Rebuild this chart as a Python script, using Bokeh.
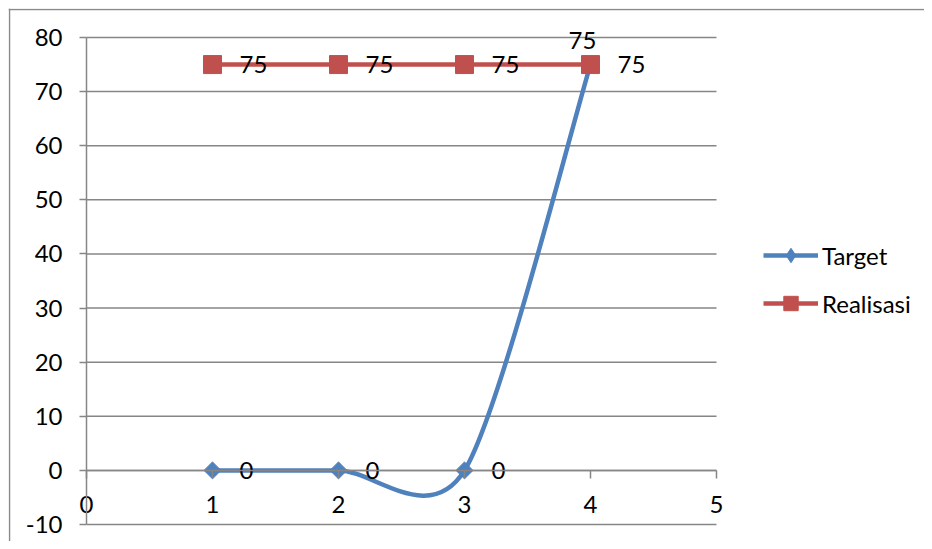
from bokeh.plotting import figure
from bokeh.models import ColumnDataSource, FixedTicker, Legend, LegendItem, Range1d, Span
from bokeh.core.properties import value
from bokeh.embed import file_html
from bokeh.resources import INLINE
import math

# ---- data ----
x_values = [1, 2, 3, 4]
target = [0, 0, 0, 75]
realisasi = [75, 75, 75, 75]
series_names = ["Target", "Realisasi"]
x_ticks = [0, 1, 2, 3, 4, 5]
y_ticks = [-10, 0, 10, 20, 30, 40, 50, 60, 70, 80]

# ---- styles / layout ----
FONT = "Lato"
FS = "24px"
GRID = "#868686"
BLUE = "#4F81BD"
RED = "#C0504D"
W, H = 924, 541
FRAME_L, FRAME_T = 8, 8                              # chart-area frame (border) origin
PA_L, PA_R, PA_T, PA_B = 86, 716, 37, 524            # plot-area pixels
target_label_dx = [27, 27, 27, -22]
target_label_dy = [0, 0, 0, -24]
real_label_dx = [27, 27, 27, 27]
real_label_dy = [0, 0, 0, 0]
SMOOTH_K = 0.14

x_lo, x_hi = x_ticks[0], x_ticks[-1]
y_lo, y_hi = y_ticks[0], y_ticks[-1]
sx = (PA_R - PA_L) / (x_hi - x_lo)
sy = (PA_B - PA_T) / (y_hi - y_lo)
x_range = Range1d(x_lo - (PA_L - FRAME_L) / sx, x_hi + (W - PA_R) / sx)
y_range = Range1d(y_lo - (H - PA_B) / sy, y_hi + (PA_T - FRAME_T) / sy)


def smooth(xs, ys, k=SMOOTH_K):
    """Cubic Bezier pieces of a smoothed line through the points (Catmull-Rom style)."""
    n = len(xs)
    d = dict(x0=[], y0=[], x1=[], y1=[], cx0=[], cy0=[], cx1=[], cy1=[])
    for i in range(n - 1):
        pxp, pyp = (xs[i - 1], ys[i - 1]) if i > 0 else (xs[i], ys[i])
        pxn, pyn = (xs[i + 2], ys[i + 2]) if i + 2 < n else (xs[i + 1], ys[i + 1])
        d["x0"].append(xs[i]); d["y0"].append(ys[i])
        d["x1"].append(xs[i + 1]); d["y1"].append(ys[i + 1])
        d["cx0"].append(xs[i] + (xs[i + 1] - pxp) * k)
        d["cy0"].append(ys[i] + (ys[i + 1] - pyp) * k)
        d["cx1"].append(xs[i + 1] - (pxn - xs[i]) * k)
        d["cy1"].append(ys[i + 1] - (pyn - ys[i]) * k)
    return ColumnDataSource(d)


p = figure(width=W, height=H, output_backend="svg", toolbar_location=None,
           x_range=x_range, y_range=y_range,
           min_border_left=FRAME_L, min_border_top=FRAME_T, min_border_right=0, min_border_bottom=0,
           background_fill_color="white", border_fill_color="white")
p.outline_line_color = None
p.xgrid.visible = False
p.ygrid.visible = False

# chart-area border (left and top edges visible)
p.add_layout(Span(location=x_range.start + 1 / sx, dimension="height", line_color="#8a8a8a", line_width=1.5))
p.add_layout(Span(location=y_range.end - 1 / sy, dimension="width", line_color="#8a8a8a", line_width=1.5))

# horizontal gridlines across the plot area
p.segment(x0=[x_lo] * len(y_ticks), x1=[x_hi] * len(y_ticks), y0=y_ticks, y1=y_ticks,
          line_color=GRID, line_width=1.5)

# y axis at x = 0
ya = p.yaxis[0]
ya.fixed_location = x_lo
ya.bounds = (y_lo, y_hi)
ya.ticker = FixedTicker(ticks=y_ticks)
ya.major_label_overrides = {t: str(t) for t in y_ticks}
ya.axis_line_color = GRID
ya.axis_line_width = 1.5
ya.major_tick_line_color = GRID
ya.major_tick_line_width = 1.5
ya.minor_tick_line_color = None
ya.major_tick_in = 0
ya.major_tick_out = 7
ya.major_label_standoff = 17
ya.major_label_text_font = FONT
ya.major_label_text_font_size = FS
ya.major_label_text_color = "black"

# x axis crossing at y = 0
xa = p.xaxis[0]
xa.fixed_location = 0
xa.bounds = (x_lo, x_hi)
xa.ticker = FixedTicker(ticks=x_ticks)
xa.major_label_overrides = {t: str(t) for t in x_ticks}
xa.axis_line_color = GRID
xa.axis_line_width = 1.5
xa.major_tick_line_color = GRID
xa.major_tick_line_width = 1.5
xa.minor_tick_line_color = None
xa.major_tick_in = 0
xa.major_tick_out = 8
xa.major_label_standoff = 18
xa.major_label_text_font = FONT
xa.major_label_text_font_size = FS
xa.major_label_text_color = "black"

# Target
t_line = p.bezier(x0="x0", y0="y0", x1="x1", y1="y1", cx0="cx0", cy0="cy0", cx1="cx1", cy1="cy1",
                  source=smooth(x_values, target), line_color=BLUE, line_width=4.5)
t_leg = p.scatter(x=x_values, y=target, marker="diamond", size=15, fill_color=BLUE, line_color=BLUE)
t_mark = p.scatter(x=x_values, y=target, marker="square", size=12, angle=math.pi / 4,
                   fill_color=BLUE, line_color=BLUE)
# Realisasi
r_line = p.bezier(x0="x0", y0="y0", x1="x1", y1="y1", cx0="cx0", cy0="cy0", cx1="cx1", cy1="cy1",
                  source=smooth(x_values, realisasi), line_color=RED, line_width=4.5)
r_mark = p.scatter(x=x_values, y=realisasi, marker="square", size=18,
                   fill_color=RED, line_color=RED)

# data labels
t_src = ColumnDataSource(dict(x=x_values, y=target, t=[str(v) for v in target],
                              dx=target_label_dx, dy=target_label_dy))
r_src = ColumnDataSource(dict(x=x_values, y=realisasi, t=[str(v) for v in realisasi],
                              dx=real_label_dx, dy=real_label_dy))
for src in (t_src, r_src):
    p.text(x="x", y="y", text="t", x_offset="dx", y_offset="dy", source=src,
           text_font=value(FONT), text_font_size=FS, text_color="black",
           text_align="left", text_baseline="middle")

legend = Legend(items=[LegendItem(label=series_names[0], renderers=[t_line, t_leg]),
                       LegendItem(label=series_names[1], renderers=[r_line, r_mark])],
                location=(763 - FRAME_L, H - 321), orientation="vertical",
                glyph_width=55, glyph_height=36, label_standoff=4, spacing=12,
                padding=0, margin=0, border_line_color=None, background_fill_alpha=0,
                label_text_font=FONT, label_text_font_size=FS, label_text_color="black",
                label_height=36)
p.add_layout(legend, "center")

open("out.html", "w").write(file_html(p, INLINE))
